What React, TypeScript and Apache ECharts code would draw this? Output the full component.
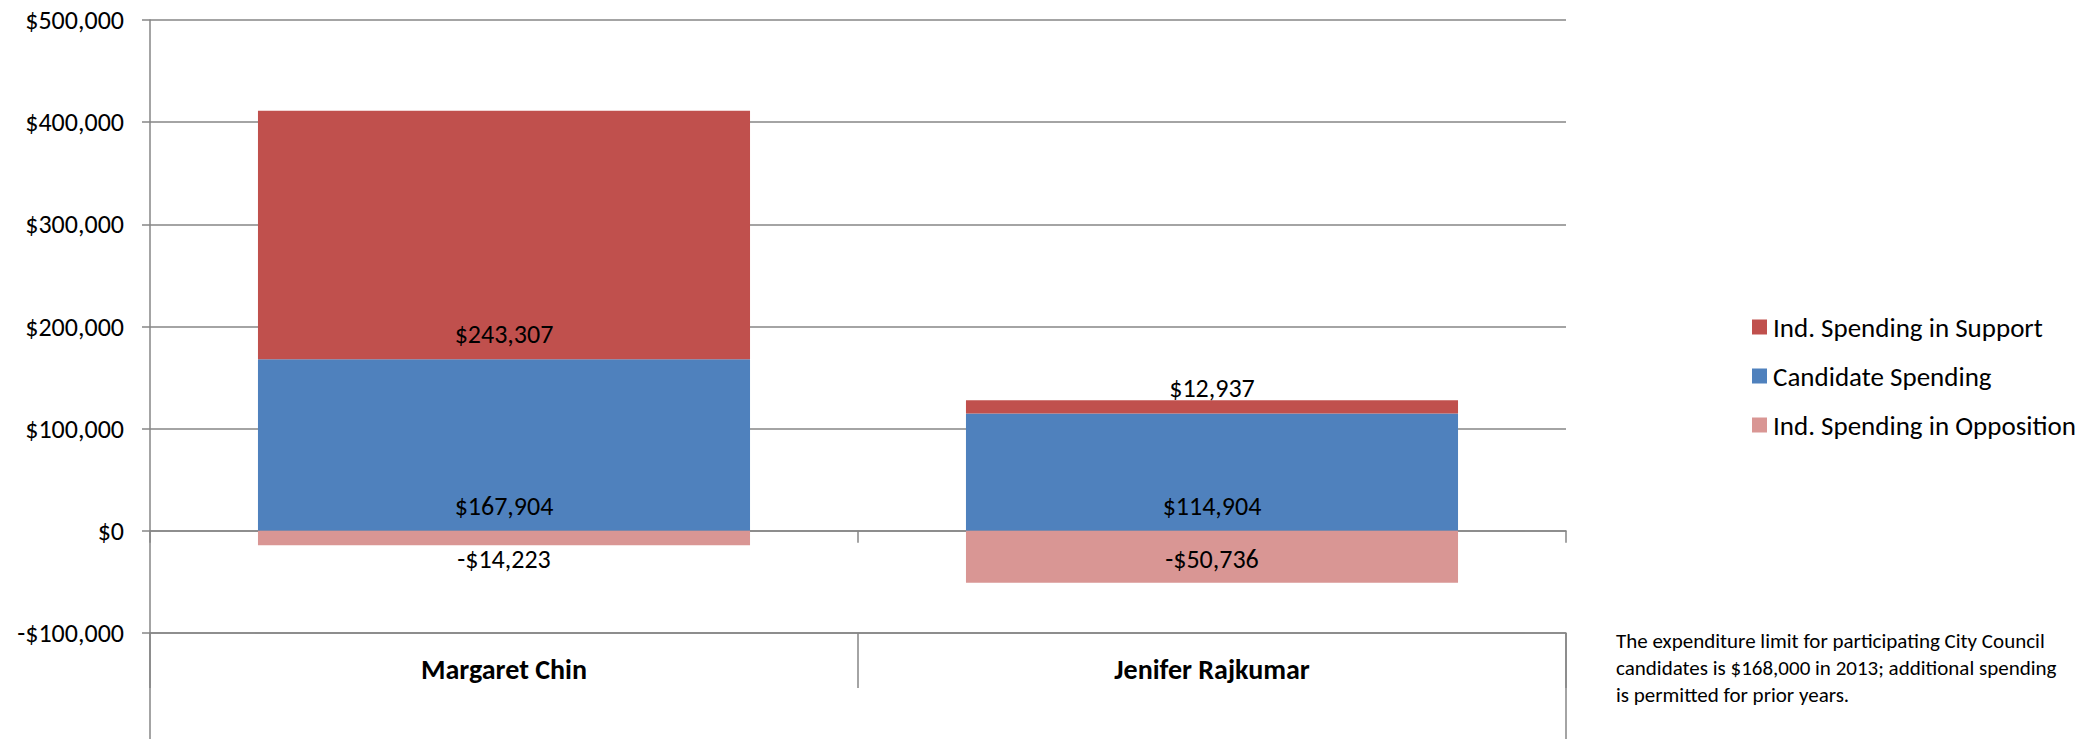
import React, { useEffect, useRef } from "react";
import * as echarts from "echarts";

const categories = ["Margaret Chin", "Jenifer Rajkumar"];
const candidateSpending = [167904, 114904];
const supportSpending = [243307, 12937];
const oppositionSpending = [-14223, -50736];
const legendNames = ["Ind. Spending in Support", "Candidate Spending", "Ind. Spending in Opposition"];
const yMin = -100000;
const yMax = 500000;
const yInterval = 100000;
const footnote = [
  "The expenditure limit for participating City Council",
  "candidates is $168,000 in 2013; additional spending",
  "is permitted for prior years.",
];

const W = 2085;
const H = 739;
const GRID_LEFT = 150;
const GRID_RIGHT_X = 1566;
const GRID_TOP = 20;
const GRID_BOTTOM_Y = 633;
const FONT = "Carlito, Calibri, Lato, sans-serif";
const GRAY = "#868686";

const money = (v: number) =>
  (v < 0 ? "-$" : "$") + Math.abs(v).toLocaleString("en-US");

export default function App() {
  const ref = useRef<HTMLDivElement>(null);
  useEffect(() => {
    document.body.style.margin = "0";
    const chart = echarts.init(ref.current!, null, { renderer: "svg" });
    const labelStyle = {
      show: true,
      color: "#000",
      fontFamily: FONT,
      fontSize: 26,
      formatter: (p: any) => money(p.value),
    };
    chart.setOption({
      animation: false,
      backgroundColor: "#fff",
      textStyle: { fontFamily: FONT },
      grid: {
        left: GRID_LEFT,
        right: W - GRID_RIGHT_X,
        top: GRID_TOP,
        bottom: H - GRID_BOTTOM_Y,
        containLabel: false,
      },
      legend: {
        orient: "vertical",
        left: 1752,
        top: 312,
        padding: 0,
        itemWidth: 15,
        itemHeight: 15,
        itemGap: 19,
        icon: "rect",
        data: legendNames,
        textStyle: { fontFamily: FONT, fontSize: 27, color: "#000", lineHeight: 30, padding: [0, 0, 0, 1] },
      },
      xAxis: [
        {
          type: "category",
          data: categories,
          position: "bottom",
          axisLine: { show: true, onZero: true, lineStyle: { color: GRAY, width: 1.5 } },
          axisTick: { show: true, interval: 0, length: 12, lineStyle: { color: GRAY, width: 1.5 } },
          axisLabel: { show: false },
          splitLine: { show: false },
        },
        {
          type: "category",
          data: categories,
          position: "bottom",
          axisLine: { show: true, onZero: false, lineStyle: { color: GRAY, width: 1.5 } },
          axisTick: { show: true, interval: 0, length: 55, lineStyle: { color: GRAY, width: 1.5 } },
          axisLabel: {
            show: true,
            interval: 0,
            margin: 22,
            color: "#000",
            fontFamily: FONT,
            fontSize: 28,
            fontWeight: "bold",
          },
          splitLine: { show: false },
        },
      ],
      yAxis: {
        type: "value",
        min: yMin,
        max: yMax,
        interval: yInterval,
        axisLine: { show: true, lineStyle: { color: GRAY, width: 1.5 } },
        axisTick: { show: true, length: 8, lineStyle: { color: GRAY, width: 1.5 } },
        axisLabel: {
          margin: 26,
          color: "#000",
          fontFamily: FONT,
          fontSize: 26,
          formatter: (v: number) => money(v),
        },
        splitLine: { show: true, lineStyle: { color: GRAY, width: 1.5 } },
      },
      series: [
        {
          name: "Candidate Spending",
          type: "bar",
          stack: "total",
          xAxisIndex: 0,
          barWidth: "69.5%",
          data: candidateSpending,
          itemStyle: { color: "#4F81BD" },
          label: { ...labelStyle, position: "insideBottom", distance: 12 },
        },
        {
          name: "Ind. Spending in Support",
          type: "bar",
          stack: "total",
          xAxisIndex: 0,
          barWidth: "69.5%",
          data: supportSpending,
          itemStyle: { color: "#C0504D" },
          label: { ...labelStyle, position: "insideBottom", distance: 12 },
        },
        {
          name: "Ind. Spending in Opposition",
          type: "bar",
          stack: "total",
          xAxisIndex: 0,
          barWidth: "69.5%",
          data: oppositionSpending,
          itemStyle: { color: "#D99694" },
          label: { ...labelStyle, position: "insideTop", distance: 15 },
        },
      ],
      graphic: [
        {
          type: "line",
          shape: { x1: GRID_LEFT, y1: GRID_BOTTOM_Y, x2: GRID_LEFT, y2: H },
          style: { stroke: GRAY, lineWidth: 1.5 },
        },
        {
          type: "line",
          shape: { x1: GRID_RIGHT_X, y1: GRID_BOTTOM_Y, x2: GRID_RIGHT_X, y2: H },
          style: { stroke: GRAY, lineWidth: 1.5 },
        },
        {
          type: "text",
          left: 1616,
          top: 627,
          style: {
            text: footnote.join("\n"),
            fontFamily: FONT,
            fontSize: 21,
            lineHeight: 27.3,
            fill: "#000",
          },
        },
      ],
    });
    return () => chart.dispose();
  }, []);
  return <div ref={ref} style={{ width: W, height: H }} />;
}
